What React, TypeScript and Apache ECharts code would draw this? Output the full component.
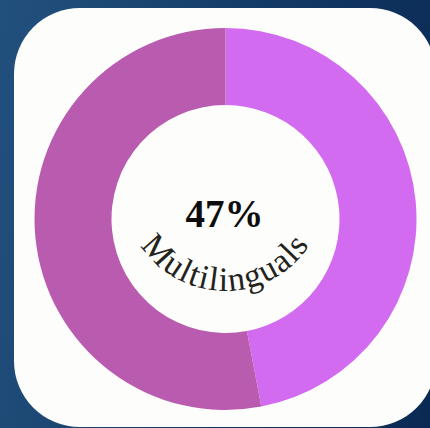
import React, { useEffect, useRef } from "react";
import * as echarts from "echarts";

const sliceNames = ["Multilinguals", "Others"];
const sliceValues = [47, 53];
const sliceColors = ["#d36bf0", "#b95cb0"];
const centerValueLabel = "47%";
const arcLabel = "Multilinguals";

export default function App() {
  const ref = useRef<HTMLDivElement>(null);
  useEffect(() => {
    if (!ref.current) return;
    const chart = echarts.init(ref.current, null, { renderer: "svg" });

    const cx = 225.5;
    const cy = 219;
    // curved label geometry
    const acx = 225;
    const acy = 190;
    const R = 101;
    const fs = 34;
    const targetLen = 200;
    const font = `${fs}px "Liberation Serif"`;
    const canvas = document.createElement("canvas");
    const ctx = canvas.getContext("2d")!;
    ctx.font = font;
    const chars = arcLabel.split("");
    const widths = chars.map((c) => ctx.measureText(c).width);
    const raw = widths.reduce((a, b) => a + b, 0);
    const spacing = Math.max(0, (targetLen - raw) / (chars.length - 1));
    const total = raw + spacing * (chars.length - 1);
    let pos = -total / 2;
    const letters: any[] = [];
    chars.forEach((c, i) => {
      const mid = pos + widths[i] / 2;
      pos += widths[i] + spacing;
      const phi = mid / R;
      const rr = R - 0.34 * fs;
      letters.push({
        type: "text",
        x: acx + rr * Math.sin(phi),
        y: acy + rr * Math.cos(phi),
        rotation: phi,
        z: 10,
        style: {
          text: c,
          x: 0,
          y: 0,
          align: "center",
          verticalAlign: "middle",
          font,
          fill: "#23231c",
        },
      });
    });

    chart.setOption({
      animation: false,
      graphic: [
        {
          type: "rect",
          z: -10,
          shape: { x: 14, y: 8, width: 422, height: 419, r: 66 },
          style: { fill: "#fdfdfb" },
        },
        {
          type: "text",
          x: cx - 1,
          y: 213,
          z: 10,
          style: {
            text: centerValueLabel,
            align: "center",
            verticalAlign: "middle",
            font: `bold 39px "Liberation Serif"`,
            fill: "#0d0d0d",
          },
        },
        ...letters,
      ],
      series: [
        {
          type: "pie",
          center: [cx, cy],
          radius: [114, 191],
          startAngle: 90,
          clockwise: true,
          label: { show: false },
          labelLine: { show: false },
          emphasis: { disabled: true },
          silent: true,
          itemStyle: { borderWidth: 0 },
          data: sliceNames.map((n, i) => ({
            name: n,
            value: sliceValues[i],
            itemStyle: { color: sliceColors[i] },
          })),
        },
      ],
    });
    return () => chart.dispose();
  }, []);
  return (
    <div
      style={{
        position: "fixed",
        left: 0,
        top: 0,
        width: 430,
        height: 428,
        background:
          "linear-gradient(100deg, #22507e 0%, #1c4773 25%, #113763 60%, #0a2a53 100%)",
      }}
    >
      <div ref={ref} style={{ width: 430, height: 428 }} />
    </div>
  );
}
